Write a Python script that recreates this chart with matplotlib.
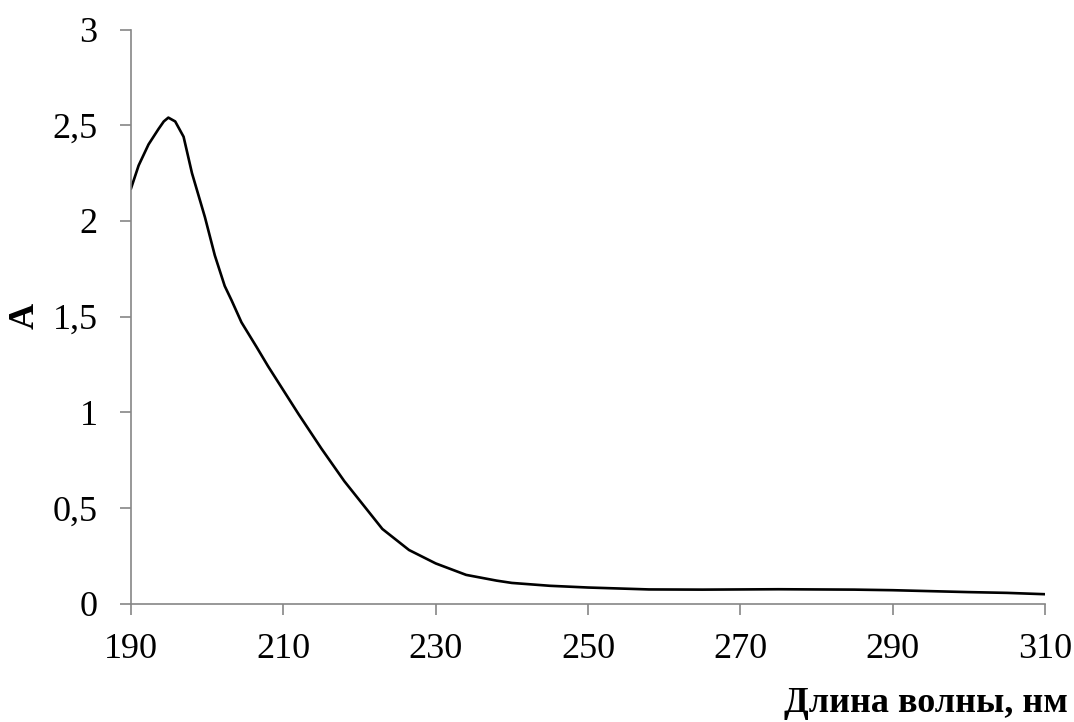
import matplotlib
matplotlib.use("Agg")
import matplotlib.pyplot as plt
import matplotlib.ticker as mticker

# wavelength (nm) and absorbance
wavelength = [190, 191, 192.3, 193.6, 194.3, 194.9, 195.8, 196.9, 198, 199.7, 201,
              202.3, 203.2, 204.5, 206.5, 208, 210, 212, 215, 218, 221, 223, 226.5,
              230, 234, 238, 240, 245, 250, 258, 265, 275, 285, 290, 295, 300, 305, 310]
absorbance = [2.17, 2.29, 2.40, 2.48, 2.52, 2.54, 2.52, 2.44, 2.25, 2.02, 1.82,
              1.66, 1.585, 1.47, 1.34, 1.24, 1.115, 0.99, 0.81, 0.64, 0.49, 0.39, 0.28,
              0.21, 0.15, 0.12, 0.108, 0.093, 0.084, 0.074, 0.073, 0.075, 0.073, 0.07,
              0.065, 0.06, 0.056, 0.049]

x_ticks = [190, 210, 230, 250, 270, 290, 310]
y_ticks = [0, 0.5, 1, 1.5, 2, 2.5, 3]

plt.rcParams['font.family'] = ['Liberation Serif', 'DejaVu Serif']

fig = plt.figure(figsize=(10.74, 7.22), dpi=100)
ax = fig.add_axes([0.122, 0.164, 0.851, 0.795])

ax.plot(wavelength, absorbance, color='black', linewidth=1.9, solid_joinstyle='round')

ax.set_xlim(190, 310)
ax.set_ylim(0, 3)
ax.set_xticks(x_ticks)
ax.set_yticks(y_ticks)
ax.yaxis.set_major_formatter(mticker.FuncFormatter(lambda v, p: ('%g' % v).replace('.', ',')))

for side in ['top', 'right']:
  ax.spines[side].set_visible(False)
for side in ['left', 'bottom']:
  ax.spines[side].set_color('#868686')
  ax.spines[side].set_linewidth(1.2)

ax.tick_params(direction='out', length=8, width=1.2, color='#868686', labelsize=26)
ax.tick_params(axis='x', pad=13)
ax.tick_params(axis='y', pad=16)

fig.text(0.023, 0.562, 'A', rotation=90, fontsize=26, fontweight='bold',
         ha='center', va='center')
fig.text(0.994, 0.026, 'Длина волны, нм', fontsize=26, fontweight='bold',
         ha='right', va='center')

plt.savefig('out.png', dpi=100)
plt.close()
